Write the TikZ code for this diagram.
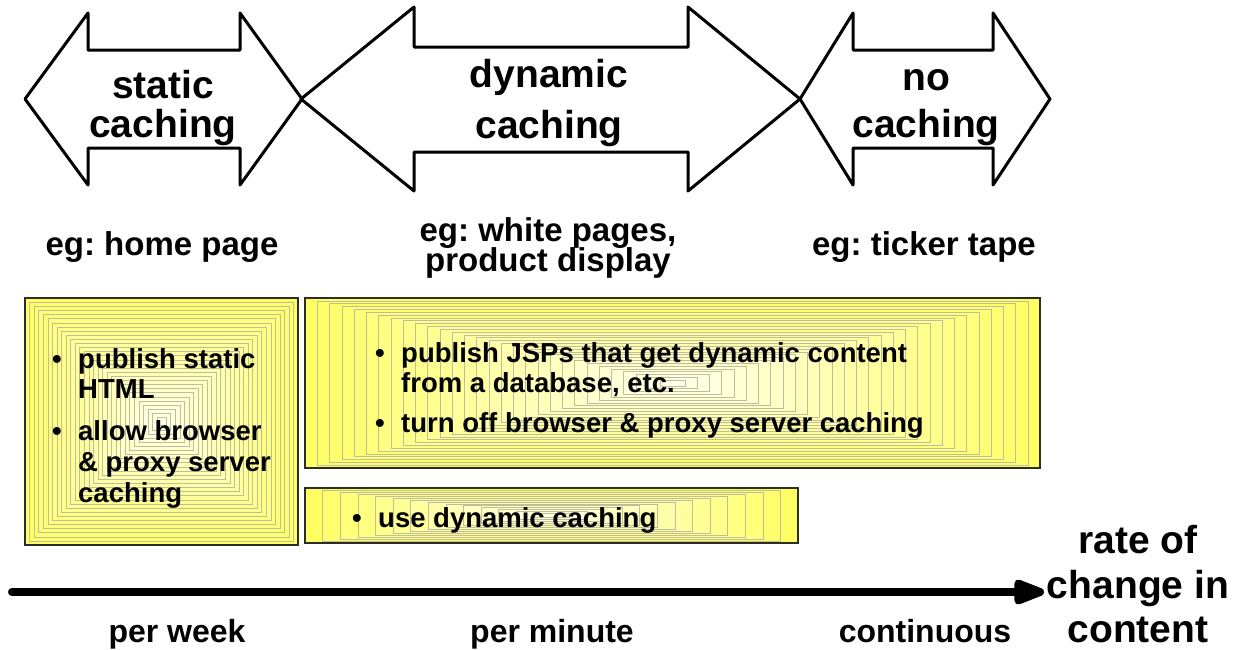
\documentclass[tikz,border=0pt]{standalone}
\usepackage{fontspec}
\setmainfont{Liberation Sans}
\usetikzlibrary{arrows.meta}
\definecolor{boxY}{RGB}{255,255,100}
\definecolor{boxEdge}{RGB}{45,45,35}
\definecolor{bandLine}{RGB}{190,190,155}
\newcommand\gradbox[5]{%
  \pgfmathtruncatemacro\nlast{#5-1}%
  \foreach \i in {0,...,\nlast}{%
    \pgfmathsetmacro\t{\i/#5}%
    \pgfmathsetmacro\p{100-90*\t}%
    \pgfmathsetmacro\ax{#1+(#3-#1)/2*\t}%
    \pgfmathsetmacro\ay{#2+(#4-#2)/2*\t}%
    \pgfmathsetmacro\bx{#3-(#3-#1)/2*\t}%
    \pgfmathsetmacro\by{#4-(#4-#2)/2*\t}%
    \draw[band, fill=boxY!\p!white] (\ax,\ay) rectangle (\bx,\by);
  }%
  \draw[boxline] (#1,#2) rectangle (#3,#4);
}
\frenchspacing
\begin{document}
\begin{tikzpicture}[x=1pt,y=-1pt,
  arr/.style={draw=black, line width=3pt, line join=round},
  band/.style={draw=bandLine, line width=0.4pt},
  boxline/.style={draw=boxEdge, line width=1.3pt},
  big/.style={font=\fontsize{39}{40}\selectfont\bfseries, inner sep=0pt, anchor=base},
  eg/.style={font=\fontsize{33}{34}\selectfont\bfseries, inner sep=0pt, anchor=base},
  btxt/.style={font=\fontsize{27.5}{30}\selectfont\bfseries, inner sep=0pt, anchor=base west},
  lab/.style={font=\fontsize{32}{34}\selectfont\bfseries, inner sep=0pt, anchor=base},
  axis/.style={line width=8pt, line cap=round, -{Triangle[length=38pt,width=26pt,round]}},
]
\useasboundingbox[fill=white] (0,0) rectangle (1239,649);

% ---- top double arrows ----
\draw[arr] (25,99) -- (88,13) -- (88,50) -- (240,50) -- (240,13) -- (302,99)
  -- (240,185) -- (240,148) -- (88,148) -- (88,185) -- cycle;
\draw[arr] (301,99) -- (414,7) -- (414,47) -- (688,47) -- (688,7) -- (800,99)
  -- (688,191) -- (688,152) -- (414,152) -- (414,191) -- cycle;
\draw[arr] (800,99) -- (853,13) -- (853,50) -- (993,50) -- (993,13) -- (1050,99)
  -- (993,185) -- (993,148) -- (853,148) -- (853,185) -- cycle;

\node[big] (s1) at (163,98) {static};
\node[big] (s2) at (163,137) {caching};
\node[big] (d1) at (549,87) {dynamic};
\node[big] (d2) at (549,138) {caching};
\node[big] (n1) at (926,90) {no};
\node[big] (n2) at (926,137) {caching};

% ---- examples ----
\node[eg] (eg1) at (162,255) {eg: home page};
\node[eg] (eg2a) at (548,241) {eg: white pages,};
\node[eg] (eg2b) at (548,271) {product display};
\node[eg] (eg3) at (924,255) {eg: ticker tape};

% ---- shaded boxes ----
\gradbox{25}{298}{298}{545}{30}
\gradbox{305}{298}{1040}{468}{30}
\gradbox{305}{488}{798}{543}{14}

\node[btxt] (b1a) at (52,368) {\textbullet};
\node[btxt] (t1a) at (78,368) {publish static};
\node[btxt] (t1b) at (78,398) {HTML};
\node[btxt] (b1b) at (52,440) {\textbullet};
\node[btxt] (t1c) at (78,440) {allow browser};
\node[btxt] (t1d) at (78,471) {\&~proxy server};
\node[btxt] (t1e) at (78,502) {caching};

\node[btxt] (b2a) at (375,362) {\textbullet};
\node[btxt] (t2a) at (401,362) {publish JSPs that get dynamic content};
\node[btxt] (t2b) at (401,392) {from a database, etc.};
\node[btxt] (b2b) at (375,432) {\textbullet};
\node[btxt] (t2c) at (401,432) {turn off browser \& proxy server caching};

\node[btxt] (b3a) at (352,527) {\textbullet};
\node[btxt] (t3a) at (378,527) {use dynamic caching};

% ---- axis ----
\coordinate (axS) at (12,592);
\coordinate (axE) at (1044,592);
\draw[axis] (axS) -- (axE);

\node[lab] (l1) at (177,642) {per week};
\node[lab] (l2) at (552,642) {per minute};
\node[lab] (l3) at (925,642) {continuous};

\node[big] (r1) at (1138,553) {rate of};
\node[big] (r2) at (1138,598) {change in};
\node[big] (r3) at (1138,642) {content};
\end{tikzpicture}
\end{document}
